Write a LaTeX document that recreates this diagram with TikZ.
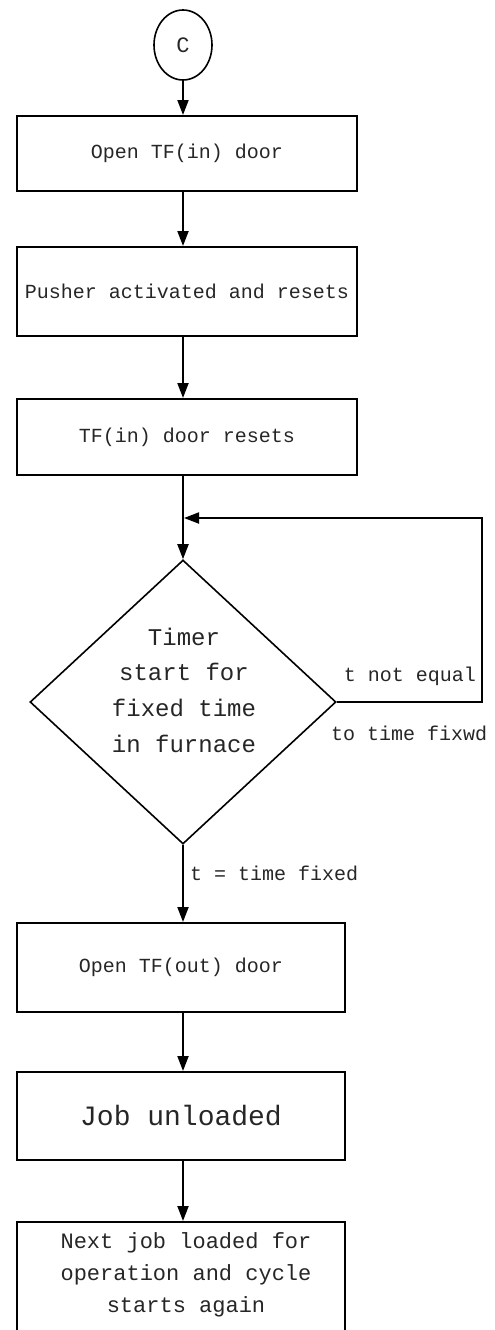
\documentclass[tikz,border=0pt]{standalone}
\usepackage{fontspec}
\setmainfont{Liberation Mono}
\usetikzlibrary{shapes.geometric,arrows.meta}
\tikzset{
  stepbox/.style={draw=black, line width=2pt, rectangle, inner sep=0pt, text=black!85},
  conn/.style={draw=black, line width=2pt, -{Triangle[length=15pt,width=11pt]}},
  lbl/.style={inner sep=0pt, text=black!85, font=\fontsize{20}{24}\selectfont},
}
\begin{document}
\begin{tikzpicture}[x=1pt,y=-1pt]
\useasboundingbox (0,0) rectangle (495,1330);
\clip (0,0) rectangle (495,1330);
% connector circle
\node[draw=black, line width=1.6pt, ellipse, minimum width=58pt, minimum height=70pt, inner sep=0pt,
      font=\fontsize{22}{24}\selectfont, text=black!85] (c) at (183,45) {C};
% boxes
\node[stepbox, minimum width=340pt, minimum height=75pt, font=\fontsize{20}{24}\selectfont] (b1) at (187,153.5) {Open TF(in) door};
\node[stepbox, minimum width=340pt, minimum height=89pt, font=\fontsize{20}{24}\selectfont] (b2) at (187,291.5) {Pusher activated and resets};
\node[stepbox, minimum width=340pt, minimum height=76pt, font=\fontsize{20}{24}\selectfont] (b3) at (187,437) {TF(in) door resets};
% decision
\node[draw=black, line width=1.6pt, diamond, minimum width=306pt, minimum height=284pt, inner sep=0pt] (d) at (183,702) {};
\node[inner sep=0pt, align=center, text=black!85, font=\fontsize{24}{35.7}\selectfont] (dt) at (184,690) {Timer\\start for\\fixed time\\in furnace};
\node[stepbox, minimum width=328pt, minimum height=89pt, font=\fontsize{20}{24}\selectfont] (b4) at (181,967.5) {Open TF(out) door};
\node[stepbox, minimum width=328pt, minimum height=88pt, font=\fontsize{28}{32}\selectfont] (b5) at (181,1116) {Job unloaded};
\node[stepbox, minimum width=328pt, minimum height=140pt, anchor=north] (b6) at (181,1221) {};
\node[inner sep=0pt, align=center, text=black!85, font=\fontsize{22}{32}\selectfont] (b6t) at (186,1275) {Next job loaded for\\operation and cycle\\starts again};
% loop join
\coordinate (j) at (184,518);
\coordinate (r) at (482,518);
% connectors
\draw[conn] (c.south) -- (c.south |- b1.north);
\draw[conn] (c.south |- b1.south) -- (c.south |- b2.north);
\draw[conn] (c.south |- b2.south) -- (c.south |- b3.north);
\draw[conn] (c.south |- b3.south) -- (d.north);
\draw[conn] (d.east) -| (r) -- (j);
\draw[conn] (d.south) -- (d.south |- b4.north);
\draw[conn] (d.south |- b4.south) -- (d.south |- b5.north);
\draw[conn] (d.south |- b5.south) -- (d.south |- b6.north);
% labels
\node[lbl, anchor=east] (l1) at (476,676) {t not equal};
\node[lbl, anchor=west] (l2) at (331,733) {to time fixwd};
\node[lbl, anchor=west] (l3) at (190,873) {t = time fixed};
\end{tikzpicture}
\end{document}
